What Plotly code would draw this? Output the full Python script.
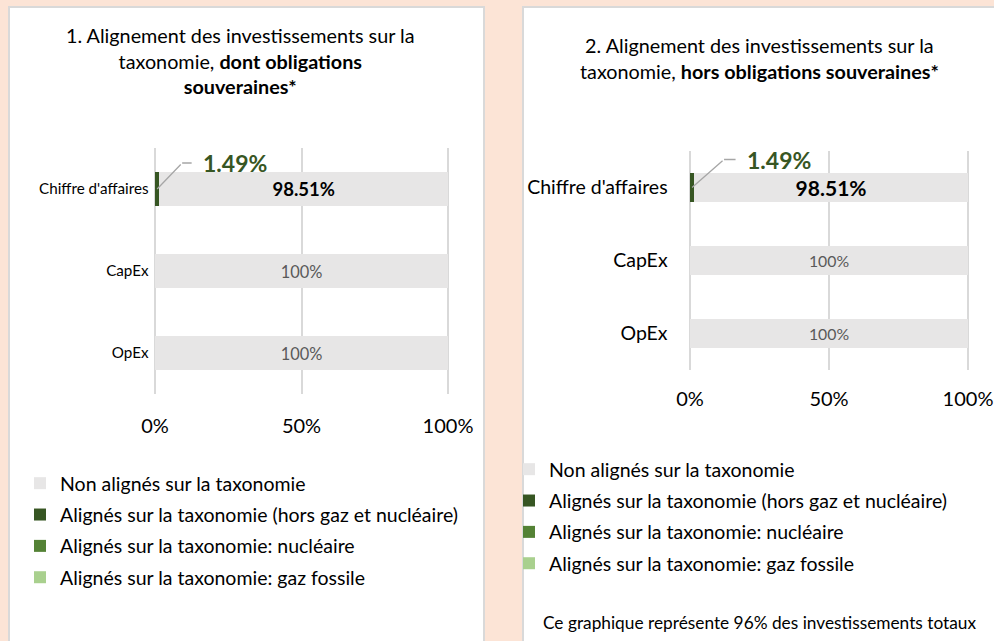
import plotly.graph_objects as go

W, H = 994, 641
FONT = "Lato, 'Open Sans', sans-serif"

# ---------------- data ----------------
categories = ["Chiffre d'affaires", "CapEx", "OpEx"]
series_names = [
    "Non alignés sur la taxonomie",
    "Alignés sur la taxonomie (hors gaz et nucléaire)",
    "Alignés sur la taxonomie: nucléaire",
    "Alignés sur la taxonomie: gaz fossile",
]
# chart 1 : dont obligations souveraines
c1_aligned_excl = [1.49, 0, 0]
c1_aligned_nuclear = [0, 0, 0]
c1_aligned_gas = [0, 0, 0]
c1_non_aligned = [98.51, 100, 100]
# chart 2 : hors obligations souveraines
c2_aligned_excl = [1.49, 0, 0]
c2_aligned_nuclear = [0, 0, 0]
c2_aligned_gas = [0, 0, 0]
c2_non_aligned = [98.51, 100, 100]

tick_vals = [0, 50, 100]
tick_text = ["0%", "50%", "100%"]

title1 = "1. Alignement des investissements sur la<br>taxonomie, <b>dont obligations</b><br><b>souveraines*</b>"
title2 = "2. Alignement des investissements sur la<br>taxonomie, <b>hors obligations souveraines*</b>"
footnote = "Ce graphique représente 96% des investissements totaux"

# ---------------- styles ----------------
C_NON = "#E7E6E6"
C_EXCL = "#375623"
C_NUC = "#548235"
C_GAS = "#A9D08E"
C_GRID = "#D9D9D9"
C_BG = "#FCE4D6"


def px(x):
    return x / W


def py(y):
    return 1 - y / H


def fmt(v):
    return f"{v:.0f}%" if float(v).is_integer() else f"{v:.2f}%"


fig = go.Figure()


def add_chart(xa, ya, legend, excl, nuc, gas, non, big, small):
    grp = legend
    common = dict(y=categories, orientation="h", xaxis=xa, yaxis=ya,
                  legend=legend, hoverinfo="skip", marker_line_width=0)
    fig.add_trace(go.Bar(x=excl, name=series_names[1], marker_color=C_EXCL,
                         legendrank=2, legendgroup=grp + "b", **common))
    fig.add_trace(go.Bar(x=nuc, name=series_names[2], marker_color=C_NUC,
                         legendrank=3, legendgroup=grp + "c", **common))
    fig.add_trace(go.Bar(x=gas, name=series_names[3], marker_color=C_GAS,
                         legendrank=4, legendgroup=grp + "d", **common))
    labels = [("<b>" + fmt(v) + "</b>") if e > 0 else fmt(v) for v, e in zip(non, excl)]
    colors = ["#000000" if e > 0 else "#595959" for e in excl]
    sizes = [big if e > 0 else small for e in excl]
    fig.add_trace(go.Bar(x=non, name=series_names[0], marker_color=C_NON,
                         legendrank=1, legendgroup=grp + "a",
                         text=labels, textposition="inside", insidetextanchor="middle",
                         constraintext="none",
                         textfont=dict(color=colors, size=sizes, family=FONT), **common))


add_chart("x", "y", "legend", c1_aligned_excl, c1_aligned_nuclear, c1_aligned_gas,
          c1_non_aligned, 18.5, 16.4)
add_chart("x2", "y2", "legend2", c2_aligned_excl, c2_aligned_nuclear, c2_aligned_gas,
          c2_non_aligned, 21, 15.8)


def leader(xref, yref, value, cat, ax, ay, hlen, txt_dx, size):
    xv = value / 2
    fig.add_annotation(x=xv, y=cat, xref=xref, yref=yref, text="", showarrow=True,
                       arrowhead=0, arrowwidth=1.3, arrowcolor="#A6A6A6", ax=ax, ay=ay)
    fig.add_annotation(x=xv, y=cat, xref=xref, yref=yref, text="", showarrow=True,
                       arrowhead=0, arrowwidth=1.3, arrowcolor="#A6A6A6",
                       xshift=ax, yshift=-ay, ax=hlen, ay=0)
    fig.add_annotation(x=xv, y=cat, xref=xref, yref=yref, text="<b>" + fmt(value) + "</b>",
                       showarrow=False, xanchor="left", yanchor="middle",
                       xshift=txt_dx, yshift=-ay,
                       font=dict(size=size, color=C_EXCL, family=FONT))


leader("x", "y", c1_aligned_excl[0], categories[0], 25, -26, 11, 44, 23)
leader("x2", "y2", c2_aligned_excl[0], categories[0], 32, -28, 13, 53, 23)

# titles
fig.add_annotation(x=px(240), y=py(60), xref="paper", yref="paper", text=title1,
                   showarrow=False, xanchor="center", yanchor="middle", align="center",
                   font=dict(size=19.8, color="#000000", family=FONT))
fig.add_annotation(x=px(759), y=py(57.5), xref="paper", yref="paper", text=title2,
                   showarrow=False, xanchor="center", yanchor="middle", align="center",
                   font=dict(size=19.8, color="#000000", family=FONT))
fig.add_annotation(x=px(541), y=py(622), xref="paper", yref="paper", text=footnote,
                   showarrow=False, xanchor="left", yanchor="middle",
                   font=dict(size=17.3, color="#000000", family=FONT))

# panels
fig.add_shape(type="rect", xref="paper", yref="paper", x0=px(9), x1=px(484), y0=py(660), y1=py(7),
              fillcolor="#FFFFFF", line=dict(color="#D9D9D9", width=2), layer="below")
fig.add_shape(type="rect", xref="paper", yref="paper", x0=px(523), x1=px(1010), y0=py(660), y1=py(7),
              fillcolor="#FFFFFF", line=dict(color="#D9D9D9", width=2), layer="below")

xcommon = dict(range=[-0.5, 100.5], tickvals=tick_vals, ticktext=tick_text, showgrid=True,
               gridcolor=C_GRID, gridwidth=1.5, zeroline=False, showline=False, ticks="",
               fixedrange=True, automargin=False)
ycommon = dict(type="category", categoryorder="array", categoryarray=categories,
               autorange="reversed", showgrid=False, zeroline=False, showline=False,
               ticks="", fixedrange=True, automargin=False)

fig.update_layout(
    width=W, height=H,
    margin=dict(l=0, r=0, t=0, b=0, autoexpand=False),
    paper_bgcolor=C_BG, plot_bgcolor="rgba(0,0,0,0)",
    barmode="stack", bargap=0.595,
    font=dict(family=FONT, color="#000000"),
    xaxis=dict(domain=[px(153.5), px(449.5)], anchor="y", ticklabelstandoff=18,
               tickfont=dict(size=20, color="#000000"), **xcommon),
    yaxis=dict(domain=[py(394), py(148)], anchor="x", ticklabelstandoff=4,
               tickfont=dict(size=15.2, color="#000000"), **ycommon),
    xaxis2=dict(domain=[px(688.6), px(969.4)], anchor="y2", ticklabelstandoff=15,
                tickfont=dict(size=20, color="#000000"), **xcommon),
    yaxis2=dict(domain=[py(370), py(151)], anchor="x2", ticklabelstandoff=20,
                tickfont=dict(size=19.5, color="#000000"), **ycommon),
    legend=dict(x=px(20), y=py(464), xanchor="left", yanchor="top",
                bgcolor="rgba(0,0,0,0)", traceorder="grouped", tracegroupgap=3,
                font=dict(size=19.5, color="#000000", family=FONT)),
    legend2=dict(x=px(509), y=py(450), xanchor="left", yanchor="top",
                 bgcolor="rgba(0,0,0,0)", traceorder="grouped", tracegroupgap=3,
                 font=dict(size=19.5, color="#000000", family=FONT)),
    showlegend=True,
)

fig.write_html(
    "out.html",
    config={"displayModeBar": False},
    post_script="document.body.style.margin='0';document.body.style.overflow='hidden';",
)
